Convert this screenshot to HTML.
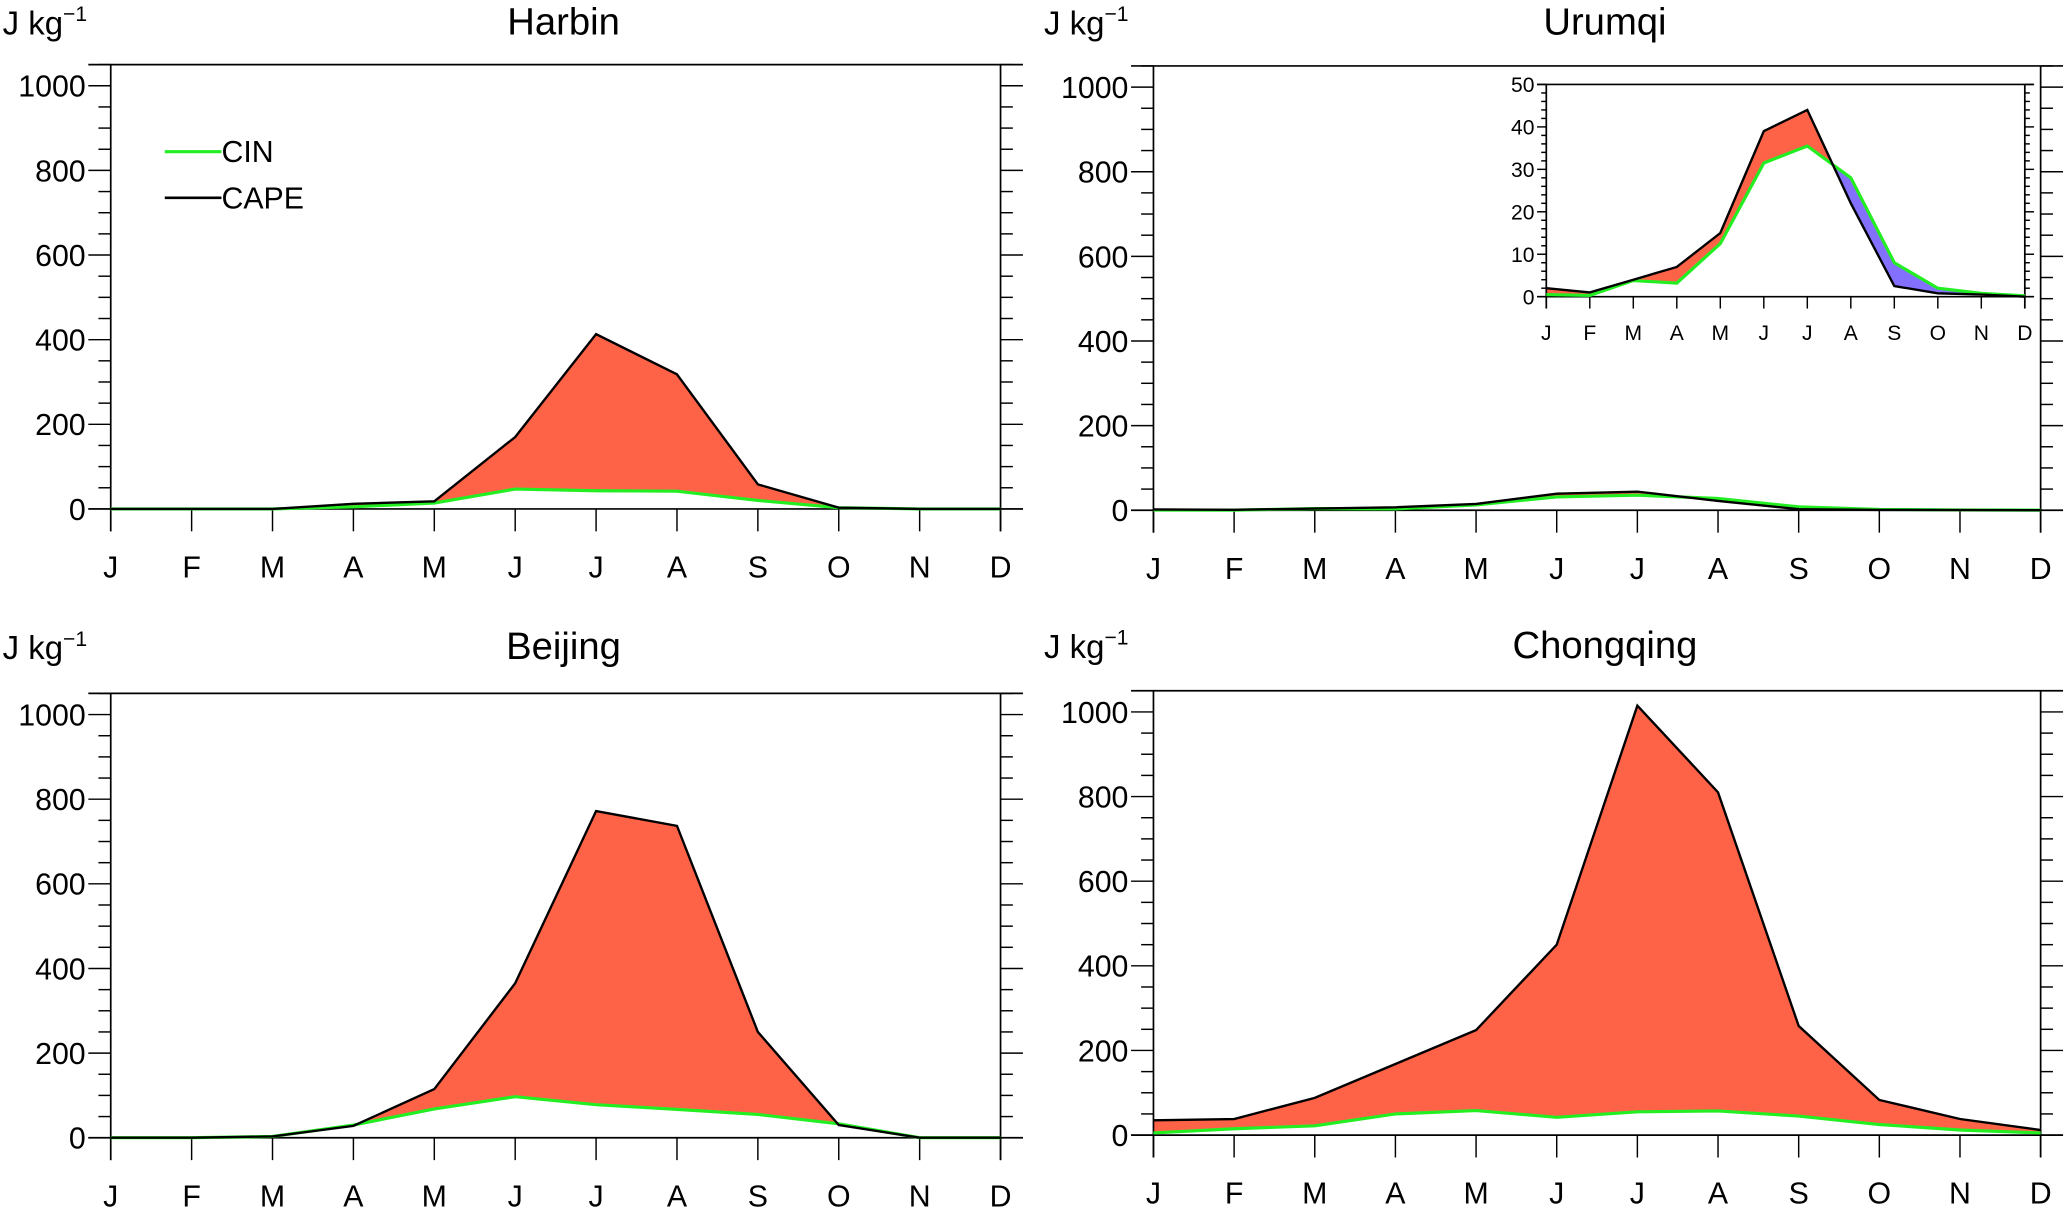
<!DOCTYPE html>
<html><head><meta charset="utf-8"><style>
html,body{margin:0;padding:0;background:#fff}
svg{display:block}
text{font-family:"Liberation Sans",sans-serif;fill:#000}
</style></head><body>
<svg id="chart" width="2067" height="1209" viewBox="0 0 1568 917" xmlns="http://www.w3.org/2000/svg"></svg>
<script>
const months = ["J","F","M","A","M","J","J","A","S","O","N","D"];
const yTicks = [0,200,400,600,800,1000];
const insetTicks = [0,10,20,30,40,50];
const harbinCape = [0,0,0,12,18,170,413,318,58,3,0,0];
const harbinCin = [0,0,0,5,14,47,43,42,20,3,0,0];
const urumqiCape = [2,1,4,7,15,39,44,22,2.5,0.8,0.5,0];
const urumqiCin = [0.5,0.3,3.8,3.2,12.5,31.5,35.5,28,8,2,0.8,0.2];
const beijingCape = [0,0,3,28,115,365,772,737,250,30,0,0];
const beijingCin = [0,0,3,30,68,97,78,67,55,33,0,0];
const chongqingCape = [35,38,88,168,248,450,1015,810,258,83,38,12];
const chongqingCin = [5,15,22,50,58,42,55,57,45,25,12,5];

const svg = document.getElementById('chart');
const NS = 'http://www.w3.org/2000/svg';
function mk(tag, attrs, parent){const e=document.createElementNS(NS,tag);for(const k in attrs)e.setAttribute(k,attrs[k]);(parent||svg).appendChild(e);return e;}

function drawPanel(o){
  const g = mk('g',{});
  
  
  const xs = i => o.x0 + (o.x1-o.x0)*i/11;
  const ys = v => o.y0 - (o.y0-o.yTop)*(v-o.vmin)/(o.vmax-o.vmin);
  const cape=o.cape, cin=o.cin;
  for(let i=0;i<11;i++){
    const d0=cape[i]-cin[i], d1=cape[i+1]-cin[i+1];
    const segs=[];
    if(d0*d1<0){
      const t=d0/(d0-d1);
      segs.push([i,i+t,d0]);segs.push([i+t,i+1,d1]);
    } else segs.push([i,i+1,d0!==0?d0:d1]);
    segs.forEach(s=>{
      const a=s[0],b=s[1];
      const iv=(arr,x)=>{const k=Math.min(Math.floor(x),10);const f=x-k;return arr[k]+(arr[k+1]-arr[k])*f;};
      const pts=[[a,iv(cape,a)],[b,iv(cape,b)],[b,iv(cin,b)],[a,iv(cin,a)]];
      const col=s[2]>=0?'#FF6347':'#8470FF';
      const p=mk('polygon',{points:pts.map(q=>(o.x0+(o.x1-o.x0)*q[0]/11)+','+ys(q[1])).join(' '),fill:col,stroke:col,'stroke-width':0.6,'stroke-linejoin':'round'},g);
      
      
    });
  }
  const tk=o.tick, mn=o.tick*0.55;
  mk('line',{x1:o.x0-tk,y1:o.yTop,x2:o.x1+tk,y2:o.yTop,stroke:'#000','stroke-width':1.3},g);
  mk('line',{x1:o.x0,y1:o.yTop,x2:o.x0,y2:o.yBot,stroke:'#000','stroke-width':1.3},g);
  mk('line',{x1:o.x1,y1:o.yTop,x2:o.x1,y2:o.yBot,stroke:'#000','stroke-width':1.3},g);
  mk('line',{x1:o.x0-tk,y1:ys(0),x2:o.x1+tk,y2:ys(0),stroke:'#000','stroke-width':1.3},g);
  for(let v=o.vmin<0?0:o.vmin; v<=o.vmax+1e-9; v+=o.minor){
    const major = o.ticks.some(t=>Math.abs(t-v)<1e-6);
    const l = major?tk:mn;
    mk('line',{x1:o.x0-l,y1:ys(v),x2:o.x0,y2:ys(v),stroke:'#000','stroke-width':1.1},g);
    mk('line',{x1:o.x1,y1:ys(v),x2:o.x1+l,y2:ys(v),stroke:'#000','stroke-width':1.1},g);
  }
  o.ticks.forEach(t=>{
    const tx=mk('text',{x:o.x0-tk-2,y:ys(t)+o.fs*0.36,'text-anchor':'end','font-size':o.fs},g);
    tx.textContent=t;
    
    
  });
  months.forEach((m,i)=>{
    mk('line',{x1:xs(i),y1:ys(0),x2:xs(i),y2:o.yBot,stroke:'#000','stroke-width':1.1},g);
    const tx=mk('text',{x:xs(i),y:o.labY,'text-anchor':'middle','font-size':o.fs},g);
    tx.textContent=m;
    
    
  });
  const cinL=mk('polyline',{points:cin.map((v,i)=>xs(i)+','+ys(v)).join(' '),fill:'none',stroke:'#22EE22','stroke-width':o.lw+0.6},g);
  
  
  const capeL=mk('polyline',{points:cape.map((v,i)=>xs(i)+','+ys(v)).join(' '),fill:'none',stroke:'#000','stroke-width':o.lw},g);
  
  
  if(o.title){
    const t=mk('text',{x:(o.x0+o.x1)/2+6,y:o.titleY,'text-anchor':'middle','font-size':29},g);
    t.textContent=o.title;
    
    
    const u=mk('text',{x:o.unitX,y:o.titleY,'font-size':25},g);
    u.innerHTML='J kg<tspan dy="-10" font-size="16">−1</tspan>';
    
    
  }
}
const big = {vmin:-50,vmax:1050,ticks:yTicks,minor:50,tick:17,fs:23,lw:1.8};
function P(name,title,x0,x1,zero,cape,cin,unitX,titleY){
  const sc=321/1000;
  drawPanel(Object.assign({},big,{name,title,x0,x1,y0:zero+50*sc,yTop:zero-1050*sc,yBot:zero+17,cape,cin,unitX,titleY,labY:zero+52}));
}
P('harbin','Harbin',84,759,386,harbinCape,harbinCin,2,26);
P('urumqi','Urumqi',875,1548,387,urumqiCape,urumqiCin,792,26);
P('beijing','Beijing',84,759,863,beijingCape,beijingCin,2,500);
P('chongqing','Chongqing',875,1548,861,chongqingCape,chongqingCin,792,499);
drawPanel({name:'urumqi-inset',x0:1173,x1:1536,y0:225,yTop:64,yBot:234,vmin:0,vmax:50,ticks:insetTicks,minor:2,tick:7,fs:16,lw:1.8,cape:urumqiCape,cin:urumqiCin,labY:258});
const lg=mk('g',{});


mk('line',{x1:125,y1:115,x2:168,y2:115,stroke:'#22EE22','stroke-width':2.4},lg);
mk('line',{x1:125,y1:150,x2:168,y2:150,stroke:'#000','stroke-width':2},lg);
const l1=mk('text',{x:168,y:123,'font-size':23},lg);l1.textContent='CIN';


const l2=mk('text',{x:168,y:158,'font-size':23},lg);l2.textContent='CAPE';


</script>
</body></html>
